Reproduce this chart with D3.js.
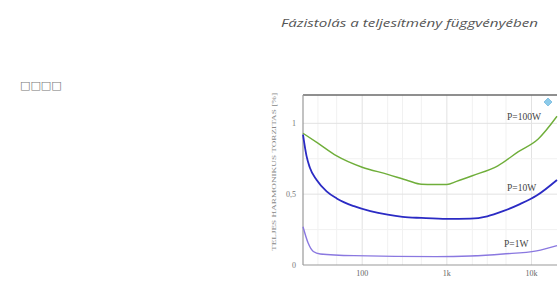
<!DOCTYPE html>
<html>
<head>
<meta charset="utf-8">
<script src="https://cdn.jsdelivr.net/npm/d3@7"></script>
<style>
  body { margin: 0; background: #fff; }
  svg { display: block; }
</style>
</head>
<body>
<svg width="560" height="281"></svg>
<script>
// frequency (Hz) / THD (%)
var freq100 = [20, 30, 50, 100, 200, 350, 500, 700, 1000, 1300, 2000, 4000, 7000, 12000, 20000];
var thd100  = [0.93, 0.86, 0.77, 0.69, 0.64, 0.595, 0.57, 0.568, 0.568, 0.59, 0.63, 0.70, 0.80, 0.89, 1.05];

var freq10 = [20, 22, 24, 29, 38, 50, 80, 125, 200, 300, 500, 1000, 1900, 3000, 4600, 7300, 11500, 20000];
var thd10  = [0.92, 0.77, 0.69, 0.60, 0.52, 0.47, 0.415, 0.38, 0.355, 0.34, 0.332, 0.325, 0.327, 0.344, 0.38, 0.43, 0.49, 0.60];

var freq1 = [20, 23, 26.5, 32, 80, 750, 1900, 4600, 11500, 20000];
var thd1  = [0.27, 0.155, 0.095, 0.078, 0.066, 0.059, 0.064, 0.078, 0.10, 0.137];

var seriesNames = ["P=100W", "P=10W", "P=1W"];
var seriesColors = ["#6fae3a", "#2b2bc4", "#8a78e0"];

var xTicks = [100, 1000, 10000];
var xTickLabels = ["100", "1k", "10k"];
var yTicks = [0, 0.5, 1];
var yTickLabels = ["0", "0,5", "1"];

var svg = d3.select("svg");

svg.append("text")
    .attr("x", 281).attr("y", 27)
    .attr("font-family", "Open Sans, sans-serif")
    .attr("font-style", "italic")
    .attr("font-size", 11.5)
    .attr("fill", "#555")
    .attr("textLength", 257)
    .attr("lengthAdjust", "spacingAndGlyphs")
    .text("Fázistolás a teljesítmény függvényében");

svg.append("text")
    .attr("x", 20).attr("y", 89)
    .attr("font-family", "DejaVu Sans, sans-serif")
    .attr("font-size", 11)
    .attr("fill", "#777")
    .text("□□□□");

var plotL = 303, plotR = 557, plotT = 95, plotB = 265;

var x = d3.scaleLog().domain([20, 20000]).range([plotL, plotR]);
var y = d3.scaleLinear().domain([0, 1.2]).range([plotB, plotT]);

// grid
var gridX = [30, 50, 100, 200, 300, 500, 1000, 2000, 3000, 5000, 10000];
svg.append("g").selectAll("line").data(gridX).join("line")
    .attr("x1", d => x(d)).attr("x2", d => x(d))
    .attr("y1", plotT).attr("y2", plotB)
    .attr("stroke", d => xTicks.indexOf(d) >= 0 ? "#e2e2e2" : "#f1f1f1")
    .attr("stroke-width", 1);
svg.append("g").selectAll("line").data([0.25, 0.5, 0.75, 1]).join("line")
    .attr("x1", plotL).attr("x2", plotR)
    .attr("y1", d => y(d)).attr("y2", d => y(d))
    .attr("stroke", d => yTicks.indexOf(d) >= 0 ? "#e2e2e2" : "#f1f1f1");

// frame
svg.append("line").attr("x1", plotL).attr("x2", plotR).attr("y1", plotT).attr("y2", plotT)
    .attr("stroke", "#6a6a6a").attr("stroke-width", 1.5);
svg.append("line").attr("x1", plotL).attr("x2", plotL).attr("y1", plotT).attr("y2", plotB)
    .attr("stroke", "#999").attr("stroke-width", 1.2);
svg.append("line").attr("x1", plotL).attr("x2", plotR).attr("y1", plotB).attr("y2", plotB)
    .attr("stroke", "#999").attr("stroke-width", 1.2);

// curves
var line = d3.line()
    .x(d => x(d[0]))
    .y(d => y(d[1]))
    .curve(d3.curveMonotoneX);

var series = [
  d3.zip(freq100, thd100),
  d3.zip(freq10, thd10),
  d3.zip(freq1, thd1)
];
svg.append("g").selectAll("path").data(series).join("path")
    .attr("d", line)
    .attr("fill", "none")
    .attr("stroke", (d, i) => seriesColors[i])
    .attr("stroke-width", (d, i) => i == 1 ? 1.8 : 1.4);

// series labels
var labelPos = [[507, 120], [507, 191], [504, 247]];
svg.append("g").selectAll("text").data(seriesNames).join("text")
    .attr("x", (d, i) => labelPos[i][0])
    .attr("y", (d, i) => labelPos[i][1])
    .attr("font-family", "Liberation Serif, serif")
    .attr("font-size", 9.5)
    .attr("fill", "#444")
    .text(d => d);

// small icon in the corner
svg.append("path")
    .attr("d", "M548,98 l4,4 l-4,4 l-4,-4 z")
    .attr("fill", "#8ccbea").attr("stroke", "#5aa9d6").attr("stroke-width", 0.6);

// tick labels
svg.append("g").selectAll("text").data(xTicks).join("text")
    .attr("x", d => x(d))
    .attr("y", 276)
    .attr("text-anchor", "middle")
    .attr("font-family", "Liberation Serif, serif")
    .attr("font-size", 8)
    .attr("fill", "#666")
    .text((d, i) => xTickLabels[i]);

svg.append("g").selectAll("text").data(yTicks).join("text")
    .attr("x", 296)
    .attr("y", d => y(d) + 3)
    .attr("text-anchor", "end")
    .attr("font-family", "Liberation Serif, serif")
    .attr("font-size", 8)
    .attr("fill", "#777")
    .text((d, i) => yTickLabels[i]);

svg.append("text")
    .attr("transform", "translate(276,172) rotate(-90)")
    .attr("text-anchor", "middle")
    .attr("font-family", "Liberation Serif, serif")
    .attr("font-size", 7)
    .attr("fill", "#888")
    .attr("textLength", 158)
    .attr("lengthAdjust", "spacingAndGlyphs")
    .text("TELJES HARMONIKUS TORZITAS [%]");
</script>
</body>
</html>
